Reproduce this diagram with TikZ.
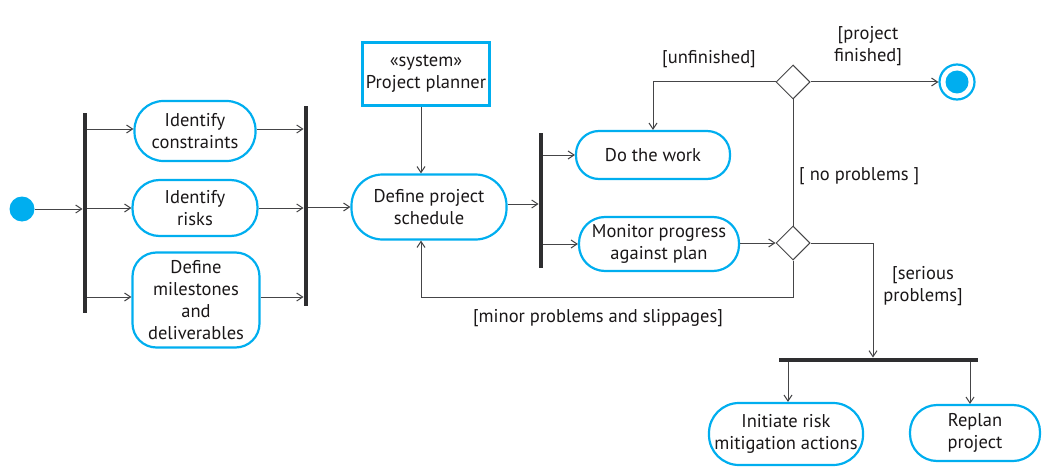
\documentclass[tikz,border=0pt]{standalone}
\usepackage{fontspec}
\setmainfont{PT Sans}
\usetikzlibrary{arrows.meta,shapes.geometric,calc}
\definecolor{uml}{HTML}{00AEEF}
\definecolor{lnc}{HTML}{454547}
\definecolor{barc}{HTML}{2E2E30}
\definecolor{txt}{HTML}{1A1718}
\begin{document}
\begin{tikzpicture}[x=1pt,y=-1pt, font=\fontsize{18.5}{22}\selectfont, text=txt,
 act/.style={draw=uml, line width=2.2pt, align=center, inner sep=0pt},
 arr/.style={draw=lnc, line width=1pt, -{Straight Barb[length=6pt,width=8pt]}},
 lnk/.style={draw=lnc, line width=1pt},
 barnode/.style={fill=barc, inner sep=0pt},
 dec/.style={diamond, draw=lnc, line width=1pt, minimum width=34pt, minimum height=34pt, inner sep=0pt},
 lab/.style={inner sep=0pt, align=center}]
\useasboundingbox (0,0) rectangle (1051,476);
% start
\node[circle, fill=uml, minimum size=25pt, inner sep=0pt] (start) at (22,209) {};
% bars
\node[barnode, minimum width=4.5pt, minimum height=200pt] (f1) at (85,213) {};
\node[barnode, minimum width=4.5pt, minimum height=199pt] (j1) at (306,206) {};
\node[barnode, minimum width=4.5pt, minimum height=135pt] (f3) at (541,200) {};
\node[barnode, minimum width=199pt, minimum height=4.5pt] (f4) at (878,360) {};
% activities
\node[act, minimum width=121pt, minimum height=60pt, rounded corners=29pt] (c1) at (195,131) {Identify\\constraints};
\node[act, minimum width=125pt, minimum height=56pt, rounded corners=27pt] (c2) at (195,208) {Identify\\risks};
\node[act, minimum width=127pt, minimum height=95pt, rounded corners=24pt] (c3) at (196,300) {Define\\milestones\\and\\deliverables};
\node[draw=uml, line width=2.2pt, align=center, inner sep=0pt, minimum width=127pt, minimum height=63pt] (plan) at (426,74) {«system»\\Project planner};
\node[act, minimum width=155pt, minimum height=65pt, rounded corners=31pt] (sched) at (429,207) {Define project\\schedule};
\node[act, minimum width=154pt, minimum height=48pt, rounded corners=23pt] (work) at (653,155) {Do the work};
\node[act, minimum width=160pt, minimum height=54pt, rounded corners=26pt] (mon) at (659,244) {Monitor progress\\against plan};
\node[act, minimum width=154pt, minimum height=62pt, rounded corners=30pt] (risk) at (786,434) {Initiate risk\\mitigation actions};
\node[act, minimum width=130pt, minimum height=56pt, rounded corners=27pt] (replan) at (975,433) {Replan\\project};
% decisions
\node[dec] (d1) at (793,82) {};
\node[dec] (d2) at (793,243) {};
% final
\node[circle, draw=uml, line width=2.2pt, minimum size=35pt, inner sep=0pt] (fin) at (957,82) {};
\node[circle, fill=uml, minimum size=23pt, inner sep=0pt] (finin) at (957,82) {};
% labels
\node[lab] (lunf) at (709,59) {[unfinished]};
\node[lab] (lfin) at (868,46) {[project\\finished]};
\node[lab, anchor=west] (lnop) at (799,176) {[ no problems ]};
\node[lab] (lser) at (923,286) {[serious\\problems]};
\node[lab] (lmin) at (598,318) {[minor problems and slippages]};
% coordinates
\coordinate (sx) at (421,0);
% connectors
\draw[arr] (start.east) -- (f1.west |- start.east);
\draw[arr] (f1.east |- 0,129) -- (c1.west |- 0,129);
\draw[arr] (f1.east |- c2.west) -- (c2.west);
\draw[arr] (f1.east |- 0,297) -- (c3.west |- 0,297);
\draw[arr] (c1.east |- 0,129) -- (j1.west |- 0,129);
\draw[arr] (c2.east) -- (j1.west |- c2.east);
\draw[arr] (c3.east |- 0,297) -- (j1.west |- 0,297);
\draw[arr] (j1.east |- sched.west) -- (sched.west);
\draw[arr] (plan.south -| sx) -- (sched.north -| sx);
\draw[arr] (sched.east |- 0,204) -- (f3.west |- 0,204);
\draw[arr] (f3.east |- work.west) -- (work.west);
\draw[arr] (f3.east |- mon.west) -- (mon.west);
\draw[arr] (mon.east |- d2.west) -- (d2.west);
\draw[lnk] (d2.north) -- (d1.south);
\draw[arr] (d1.west) -| (work.north);
\draw[arr] (d1.east) -- (fin.west);
\draw[arr] (d2.east) -| ([xshift=-5pt]f4.north);
\draw[arr] (d2.south) -- (d2.south |- 0,297) -| (sched.south -| sx);
\draw[arr] (f4.south -| 788,0) -- (risk.north -| 788,0);
\draw[arr] (f4.south -| 970,0) -- (replan.north -| 970,0);
\end{tikzpicture}
\end{document}
